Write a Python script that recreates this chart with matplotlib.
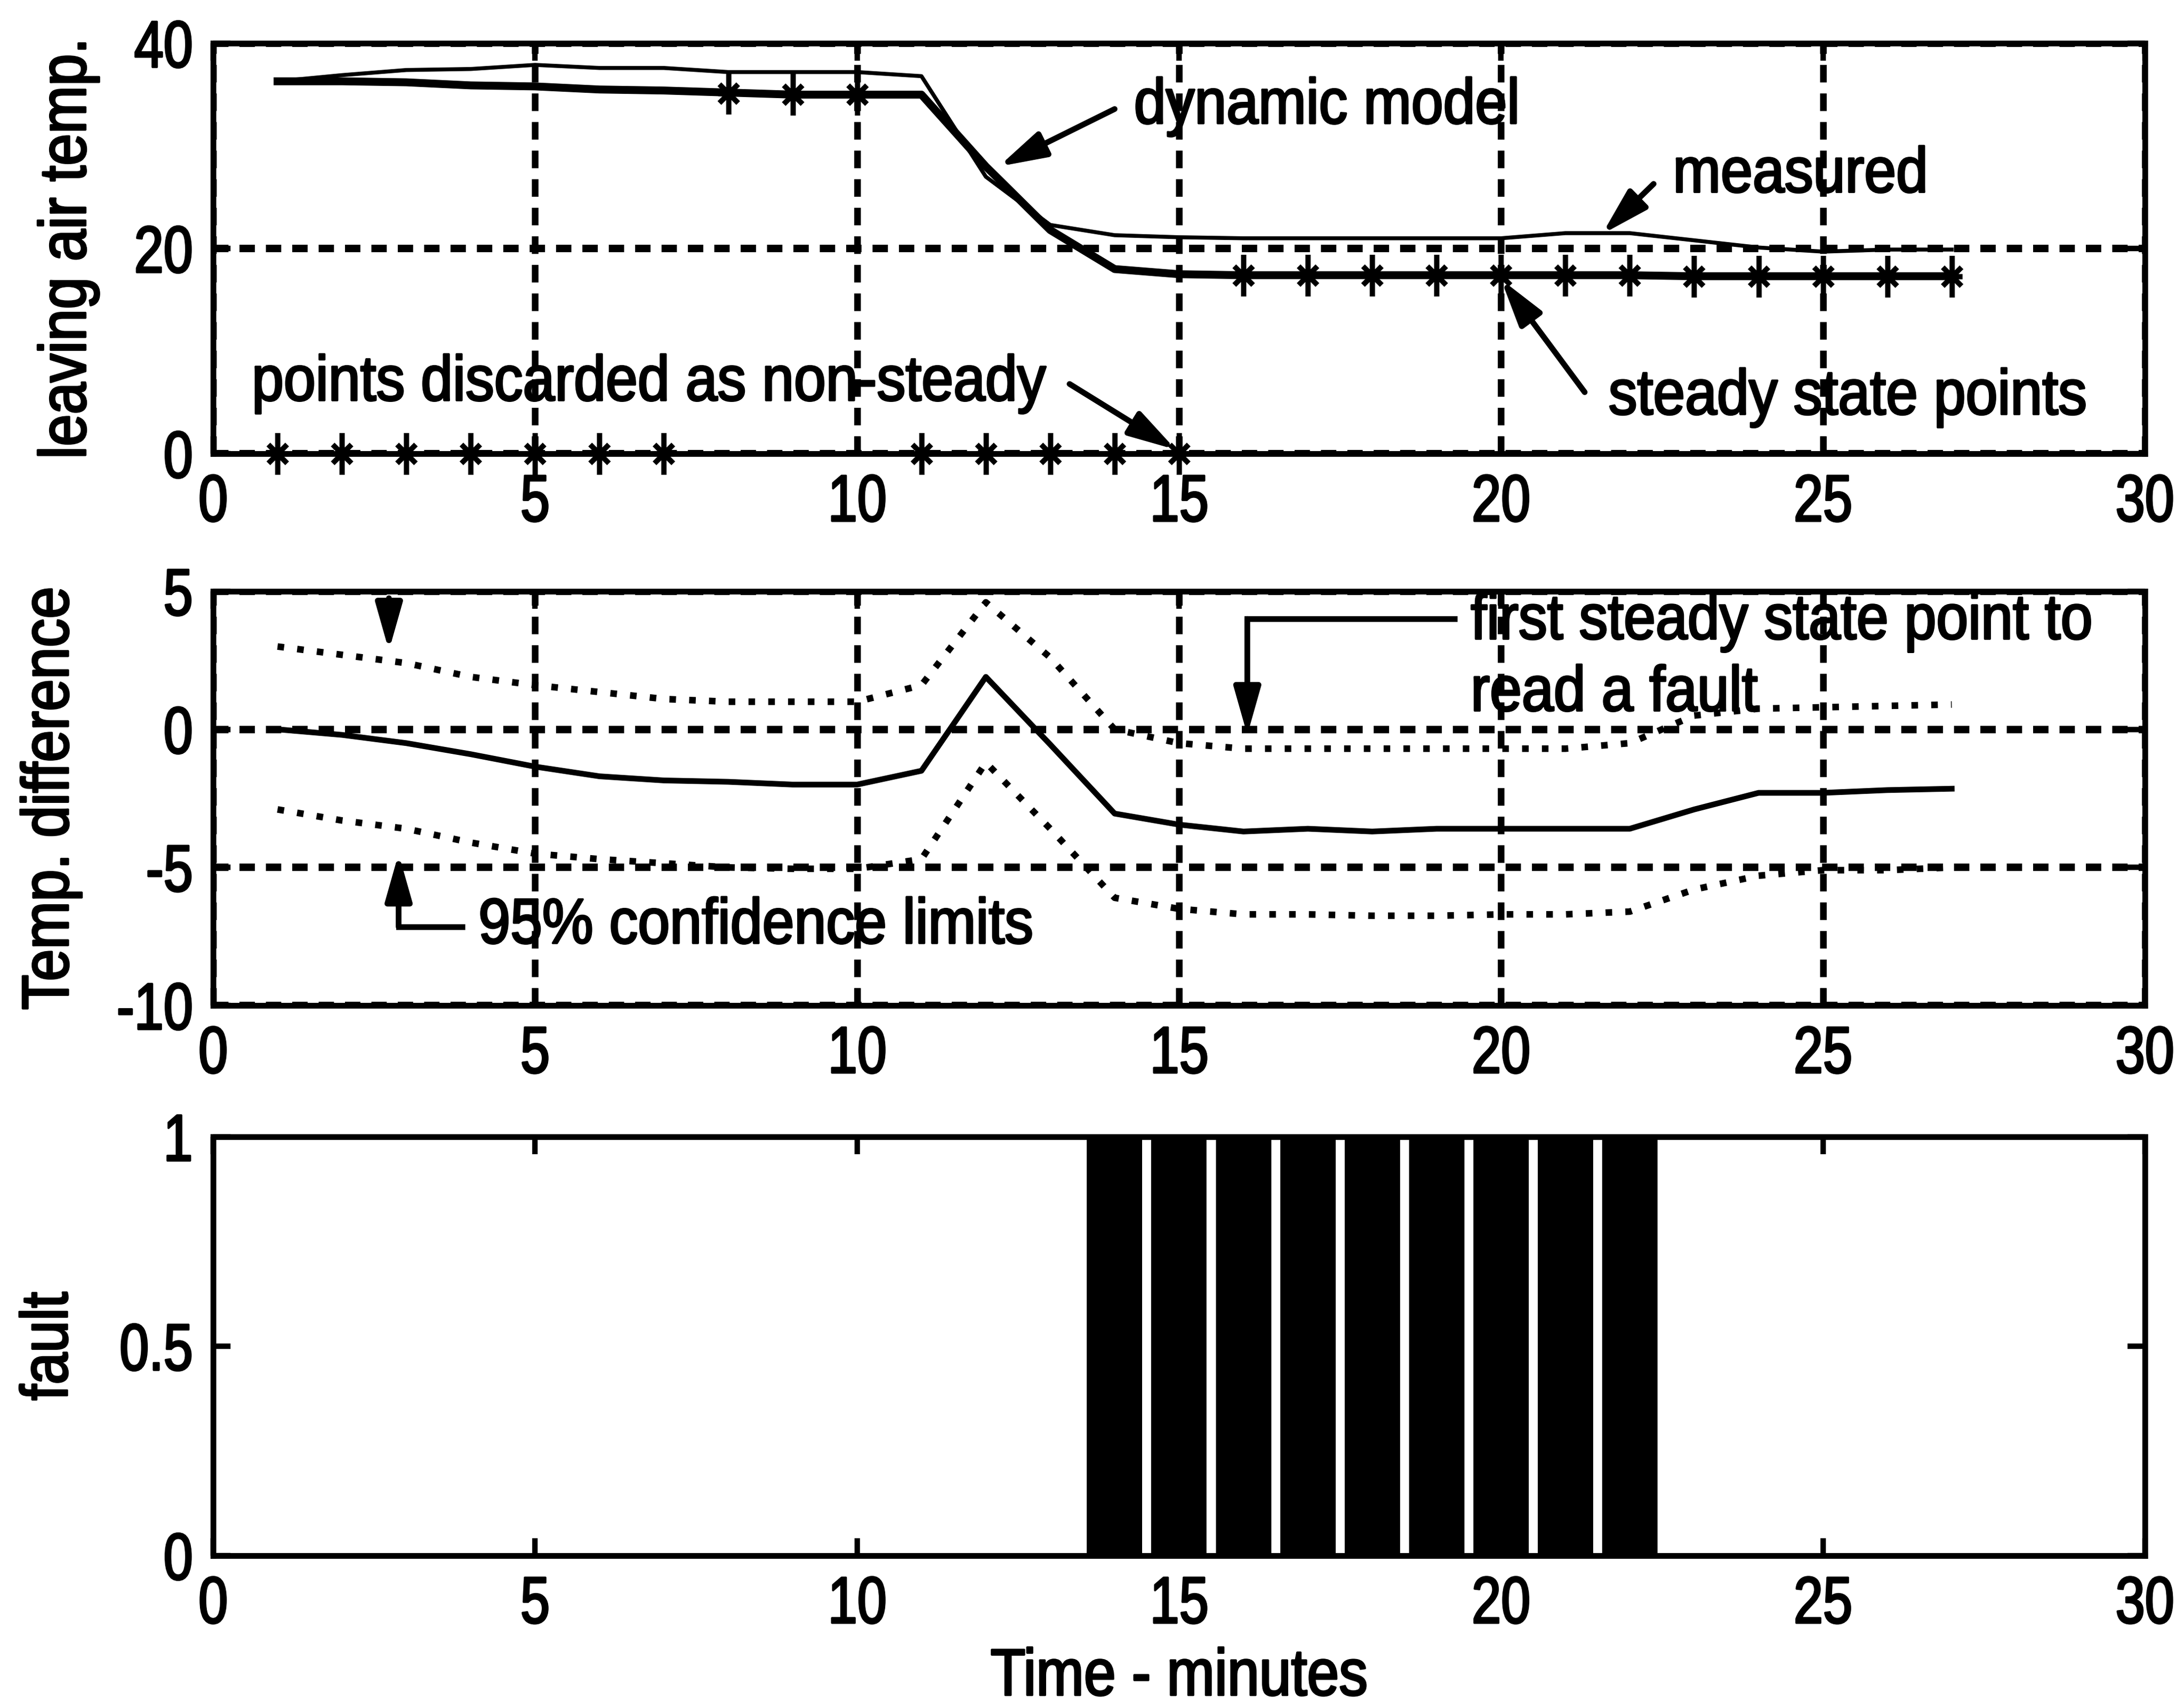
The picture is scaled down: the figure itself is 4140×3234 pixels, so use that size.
import matplotlib
matplotlib.use("Agg")
import matplotlib.pyplot as plt
import numpy as np
from matplotlib.patheffects import AbstractPathEffect
from matplotlib.transforms import Affine2D
from matplotlib.path import Path

# ---------------- data ----------------
minutes = list(range(1, 28))
measured = [36.3, 36.9, 37.4, 37.5, 37.9, 37.6, 37.6, 37.2, 37.2, 37.2, 36.8, 27.0, 22.3,
            21.3, 21.1, 21.0, 21.0, 21.0, 21.0, 21.0, 21.5, 21.5, 20.8, 20.1, 19.7, 19.9, 19.9]
model = [36.3, 36.3, 36.2, 35.9, 35.8, 35.5, 35.4, 35.2, 35.0, 35.0, 35.0, 28.0, 21.8,
         18.0, 17.5, 17.4, 17.4, 17.4, 17.4, 17.4, 17.4, 17.4, 17.3, 17.3, 17.3, 17.3, 17.3]
steady_pts = [0, 0, 0, 0, 0, 0, 0, 35.1, 35.0, 35.0, 0, 0, 0, 0, 0,
              17.4, 17.4, 17.4, 17.4, 17.4, 17.4, 17.4, 17.3, 17.3, 17.3, 17.3, 17.3]
temp_diff = [0.0, -0.2, -0.5, -0.9, -1.35, -1.7, -1.85, -1.9, -2.0, -2.0, -1.5, 1.9, -0.55,
             -3.05, -3.45, -3.7, -3.6, -3.7, -3.6, -3.6, -3.6, -3.6, -2.9, -2.3, -2.3, -2.2, -2.15]
upper_lim = [3.0, 2.7, 2.4, 1.9, 1.6, 1.35, 1.1, 1.0, 1.0, 1.0, 1.6, 4.6, 2.6, 0.0, -0.5,
             -0.7, -0.7, -0.7, -0.7, -0.7, -0.7, -0.5, 0.5, 0.75, 0.8, 0.85, 0.9]
lower_lim = [-2.9, -3.3, -3.6, -4.1, -4.5, -4.7, -4.85, -5.0, -5.05, -5.05, -4.7, -1.2, -3.6,
             -6.1, -6.5, -6.7, -6.7, -6.75, -6.75, -6.7, -6.7, -6.6, -5.8, -5.3, -5.1, -5.1, -5.0]
fault = [0] * 13 + [1] * 9 + [0] * 5

xticks = [0, 5, 10, 15, 20, 25, 30]
yticks1 = [0, 20, 40]
yticks2 = [-10, -5, 0, 5]
yticks3 = [0, 0.5, 1]
ytlabels3 = ["0", "0.5", "1"]

# ---------------- style ----------------
plt.rcParams["font.family"] = ["Liberation Sans", "DejaVu Sans"]
plt.rcParams["lines.scale_dashes"] = False
plt.rcParams["axes.unicode_minus"] = False
FS_TICK = 30
FS_LAB = 30
FS_ANN = 29


class Squeeze(AbstractPathEffect):
    """Compress glyphs horizontally and thicken them slightly
    (the reference font is a heavy, condensed screen font)."""

    def __init__(self, sx, anchor="center", stroke=0.9):
        super().__init__()
        self.sx = sx
        self.anchor = anchor
        self.stroke = stroke

    def draw_path(self, renderer, gc, tpath, affine, rgbFace=None):
        ext = tpath.get_extents()
        if self.anchor == "left":
            a = 0.0
        elif self.anchor == "right":
            a = ext.x1
        else:
            a = 0.5 * (ext.x0 + ext.x1)
        t = Affine2D().translate(-a, 0).scale(self.sx, 1).translate(a, 0) + affine
        gc0 = renderer.new_gc()
        gc0.copy_properties(gc)
        gc0.set_linewidth(self.stroke)
        gc0.set_foreground(rgbFace if rgbFace is not None else "k")
        renderer.draw_path(gc0, tpath, t, rgbFace)
        gc0.restore()


# asterisk marker: long vertical arm, shorter horizontal and diagonal arms
star = Path(
    [(0, -1), (0, 1), (-0.5, 0), (0.5, 0), (-0.45, -0.45), (0.45, 0.45),
     (-0.45, 0.45), (0.45, -0.45)],
    [Path.MOVETO, Path.LINETO] * 4,
)

fig = plt.figure(figsize=(13.8, 10.7833), dpi=300)
L, W = 0.0976, 0.8845
ax1 = fig.add_axes([L, 0.7338, W, 0.2405])
ax2 = fig.add_axes([L, 0.4105, W, 0.2427])
ax3 = fig.add_axes([L, 0.0881, W, 0.2454])


def style(ax, grid=True):
    ax.set_xlim(0, 30)
    ax.set_xticks(xticks)
    ax.tick_params(direction="in", length=8, width=2.5, top=True, right=True,
                   labelsize=FS_TICK, pad=9)
    for s in ax.spines.values():
        s.set_linewidth(2.6)
    if grid:
        ax.xaxis.grid(True, color="k", lw=3.0, ls=(0, (8, 5)))
        ax.yaxis.grid(True, color="k", lw=3.4, ls=(0, (7, 5)))


def squeeze_ticks(ax):
    for t in ax.xaxis.get_major_ticks():
        t.label1.set_path_effects([Squeeze(0.8, "center")])
    for t in ax.yaxis.get_major_ticks():
        t.label1.set_path_effects([Squeeze(0.8, "right")])


def note(ax, x, y, s):
    ax.text(x, y, s, fontsize=FS_ANN, va="center", ha="left",
            path_effects=[Squeeze(0.9, "left")])


ap = dict(arrowstyle="-|>,head_length=0.6,head_width=0.17", color="k", lw=2.6,
          mutation_scale=30, shrinkA=0, shrinkB=0)

# ---- panel 1 ----
style(ax1)
ax1.set_ylim(0, 40)
ax1.set_yticks(yticks1)
ax1.plot(minutes, measured, color="k", lw=1.8)
ax1.plot(minutes, model, color="k", lw=3.6)
ax1.plot(minutes, steady_pts, ls="none", marker=star, ms=19, mew=2.4, color="k",
         clip_on=False)
ax1.set_ylabel("leaving air temp.", fontsize=FS_LAB)
ax1.yaxis.label.set_path_effects([Squeeze(0.87)])
ax1.yaxis.set_label_coords(-0.059, 0.5)

ax1.annotate("", xy=(12.2, 28.0), xytext=(14.0, 33.6), arrowprops=ap)
note(ax1, 14.3, 33.8, "dynamic model")
ax1.annotate("", xy=(21.57, 21.4), xytext=(22.37, 26.3), arrowprops=ap)
note(ax1, 22.67, 27.1, "measured")
ax1.annotate("", xy=(20.0, 17.0), xytext=(21.3, 6.0), arrowprops=ap)
note(ax1, 21.67, 5.45, "steady state points")
ax1.annotate("", xy=(14.95, 0.4), xytext=(13.3, 6.8), arrowprops=ap)
note(ax1, 0.6, 6.8, "points discarded as non-steady")

# ---- panel 2 ----
style(ax2)
ax2.set_ylim(-10, 5)
ax2.set_yticks(yticks2)
ax2.plot(minutes, temp_diff, color="k", lw=2.6)
ax2.plot(minutes, upper_lim, color="k", lw=3.0, ls=(0, (3, 6)))
ax2.plot(minutes, lower_lim, color="k", lw=3.0, ls=(0, (3, 6)))
ax2.set_ylabel("Temp. difference", fontsize=FS_LAB)
ax2.yaxis.label.set_path_effects([Squeeze(0.87)])
ax2.yaxis.set_label_coords(-0.068, 0.5)

ax2.annotate("", xy=(2.73, 2.85), xytext=(2.73, 4.75), arrowprops=ap)
ax2.plot([3.87, 2.88], [-7.15, -7.15], color="k", lw=2.6)
ax2.annotate("", xy=(2.88, -4.5), xytext=(2.88, -7.15), arrowprops=ap)
note(ax2, 4.12, -7.15, "95% confidence limits")
ax2.plot([19.28, 16.06], [4.0, 4.0], color="k", lw=2.6)
ax2.annotate("", xy=(16.06, -0.2), xytext=(16.06, 4.0), arrowprops=ap)
note(ax2, 19.53, 3.87, "first steady state point to")
note(ax2, 19.53, 1.27, "read a fault")

# ---- panel 3 ----
style(ax3, grid=False)
ax3.set_ylim(0, 1)
ax3.set_yticks(yticks3)
ax3.set_yticklabels(ytlabels3)
ax3.bar(minutes, fault, width=0.86, color="k", edgecolor="none")
ax3.set_ylabel("fault", fontsize=FS_LAB)
ax3.yaxis.label.set_path_effects([Squeeze(0.87)])
ax3.yaxis.set_label_coords(-0.0685, 0.5)
ax3.set_xlabel("Time - minutes", fontsize=FS_LAB, labelpad=5)
ax3.xaxis.label.set_path_effects([Squeeze(0.87)])

for ax in (ax1, ax2, ax3):
    squeeze_ticks(ax)

fig.savefig("out.png", dpi=300)
